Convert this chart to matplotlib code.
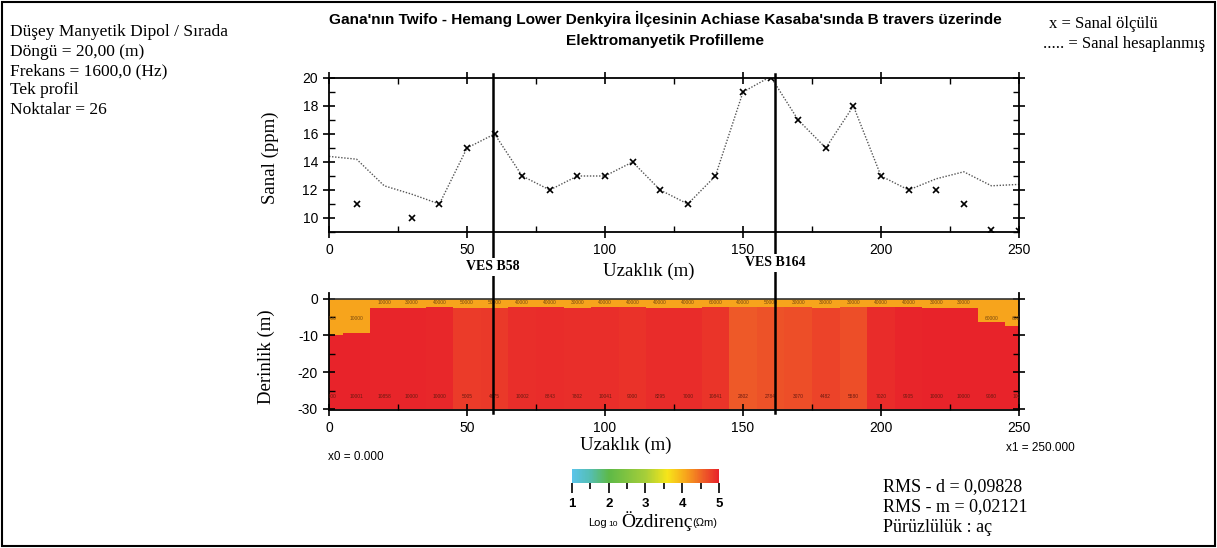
import numpy as np
import matplotlib
matplotlib.use("Agg")
import matplotlib.pyplot as plt
from matplotlib.colors import LinearSegmentedColormap, Normalize
from matplotlib.lines import Line2D
from matplotlib.patches import Rectangle
import matplotlib.transforms as mtransforms

plt.rcParams["axes.unicode_minus"] = False

SERIF = "Liberation Serif"
SANS = "Liberation Sans"

# Sanal (ppm) - measured points
meas_x = [10, 30, 40, 50, 60, 70, 80, 90, 100, 110, 120, 130, 140, 150, 160,
          170, 180, 190, 200, 210, 220, 230, 240, 250]
meas_y = [11, 10, 11, 15, 16, 13, 12, 13, 13, 14, 12, 11, 13, 19, 20,
          17, 15, 18, 13, 12, 12, 11, 9.15, 9.1]

# Sanal (ppm) - calculated curve
calc_x = [0, 10, 20, 30, 40, 50, 60, 70, 80, 90, 100, 110, 120, 130, 140, 150,
          160, 170, 180, 190, 200, 210, 220, 230, 240, 250]
calc_y = [14.4, 14.2, 12.3, 11.7, 11.0, 15.0, 16.0, 13.0, 12.0, 13.0, 13.0, 14.0,
          12.0, 11.0, 13.0, 19.0, 20.1, 17.0, 15.0, 18.0, 13.0, 12.0, 12.8, 13.3,
          12.3, 12.4]

# resistivity model (log10 ohm-m), one column per station
col_x = calc_x
top_thick = [10.0, 9.3, 2.5, 2.5, 2.4, 2.6, 2.5, 2.4, 2.4, 2.5, 2.4, 2.4, 2.5,
             2.5, 2.4, 2.4, 2.4, 2.4, 2.5, 2.4, 2.4, 2.4, 2.5, 2.6, 6.3, 7.4]
top_log = [4.1] * 26
bot_log = [5.0, 5.0, 4.98, 4.98, 4.96, 4.82, 4.84, 4.92, 4.93, 4.91, 4.91, 4.88,
           4.93, 4.93, 4.87, 4.60, 4.65, 4.68, 4.76, 4.68, 4.93, 4.98, 5.0, 5.0,
           5.0, 5.0]
top_lbl = ["10000", "10000", "10000", "30000", "40000", "50000", "50000", "40000",
           "40000", "30000", "40000", "40000", "40000", "40000", "60000", "40000",
           "50000", "30000", "30000", "30000", "40000", "40000", "30000", "30000",
           "60000", "60000"]
bot_lbl = ["10000", "10001", "10858", "10000", "10000", "5005", "4675", "10002",
           "8843", "7802", "10041", "9000", "8295", "7000", "10841", "2802",
           "2784", "3070", "4482", "5580", "7020", "9905", "10000", "10000",
           "9080", "10000"]

ves_x = [59.5, 161.6]
ves_names = ["VES B58", "VES B164"]

info_lines = ["Düşey Manyetik Dipol / Sırada", "Döngü = 20,00 (m)",
              "Frekans = 1600,0 (Hz)", "Tek profil", "Noktalar = 26"]
rms_lines = ["RMS - d = 0,09828", "RMS - m = 0,02121", "Pürüzlülük : aç"]

cmap = LinearSegmentedColormap.from_list("ozd", [
    (0.00, "#5BC4EA"), (0.12, "#55BEB4"), (0.25, "#5DB947"), (0.50, "#A6CE39"),
    (0.65, "#F7E51A"), (0.78, "#F7A21C"), (0.90, "#EE5A28"), (1.00, "#E8232A")])
norm = Normalize(1, 5)

W, H = 1217, 548
fig = plt.figure(figsize=(W / 100, H / 100), dpi=100)


def fx(px):
    return px / W


def fy(py):
    return 1 - py / H


def style_ticks(ax):
    ax.tick_params(which="major", direction="inout", length=9, width=1.2,
                   labelsize=10, top=True, right=True)
    ax.tick_params(which="minor", direction="in", length=4, width=1,
                   top=True, right=True)
    for lab in ax.get_xticklabels() + ax.get_yticklabels():
        lab.set_family(SANS)
    for s in ax.spines.values():
        s.set_linewidth(1.3)


# ---- top profile ----
ax1 = fig.add_axes([fx(329), fy(232), fx(690), 154 / H])
ax1.plot(calc_x, calc_y, ls=(0, (1, 1.2)), color="#555555", lw=1.0, clip_on=True)
ax1.plot(meas_x, meas_y, ls="none", marker="x", ms=4, mew=1.2, color="black")
ax1.set_xlim(0, 250)
ax1.set_ylim(9, 20)
ax1.set_xticks([0, 50, 100, 150, 200, 250])
ax1.set_xticks([25, 75, 125, 175, 225], minor=True)
ax1.set_yticks([10, 12, 14, 16, 18, 20])
ax1.set_yticks(np.arange(9, 20, 1), minor=True)
ax1.tick_params(labeltop=False, labelright=False)
style_ticks(ax1)

# ---- bottom resistivity section ----
ax2 = fig.add_axes([fx(329), fy(410), fx(690), 117 / H])
bot_colors = cmap(norm(bot_log))
top_colors = cmap(norm(top_log))
ax2.bar(col_x, [30 - t for t in top_thick], width=10, bottom=-30,
        color=bot_colors, linewidth=0)
ax2.bar(col_x, top_thick, width=10, bottom=[-t for t in top_thick],
        color=top_colors, linewidth=0)
ax2.axhline(0, color="#333333", lw=1.2)
for i, x in enumerate(col_x):
    ty = -5.3 if top_thick[i] > 5 else -1.2
    ax2.text(x, ty, top_lbl[i], fontsize=3.5, color="#7a4a10", ha="center",
             va="center", clip_on=True, family=SANS)
    ax2.text(x, -26.5, bot_lbl[i], fontsize=3.5, color="#6a1a10", ha="center",
             va="center", clip_on=True, family=SANS)
ax2.set_xlim(0, 250)
ax2.set_ylim(-30.3, 1.5)
ax2.set_xticks([0, 50, 100, 150, 200, 250])
ax2.set_xticks([25, 75, 125, 175, 225], minor=True)
ax2.set_yticks([0, -10, -20, -30])
ax2.set_yticks([-5, -15, -25], minor=True)
ax2.spines["top"].set_visible(False)
style_ticks(ax2)
ax2.tick_params(which="both", top=False)

# axis labels
fig.text(fx(270), fy(158), "Sanal (ppm)", rotation=90, ha="center", va="center",
         family=SERIF, fontsize=13.5)
fig.text(fx(649), fy(271), "Uzaklık (m)", ha="center", va="center",
         family=SERIF, fontsize=13.5)
fig.text(fx(266), fy(357), "Derinlik (m)", rotation=90, ha="center", va="center",
         family=SERIF, fontsize=13.5)
fig.text(fx(626), fy(445), "Uzaklık (m)", ha="center", va="center",
         family=SERIF, fontsize=13.5)
fig.text(fx(328), fy(457), "x0 = 0.000", ha="left", va="center",
         family=SANS, fontsize=8.5)
fig.text(fx(1006), fy(448), "x1 = 250.000", ha="left", va="center",
         family=SANS, fontsize=8.5)

# VES lines spanning both panels
blend = mtransforms.blended_transform_factory(ax1.transData, fig.transFigure)
label_y = [fy(267), fy(263)]
for x, name, ly in zip(ves_x, ves_names, label_y):
    fig.add_artist(Line2D([x, x], [fy(74), fy(413)], transform=blend,
                          color="black", lw=1.8, zorder=5))
    fig.text(x, ly, name, transform=blend, ha="center", va="center",
             family=SERIF, fontsize=10, fontweight="bold", zorder=6,
             bbox=dict(facecolor="white", edgecolor="none", pad=1.5))

# title
fig.text(fx(665), fy(19), "Gana'nın Twifo - Hemang Lower Denkyira İlçesinin Achiase "
         "Kasaba'sında B travers üzerinde", ha="center", va="center",
         family=SANS, fontsize=11.1, fontweight="bold")
fig.text(fx(665), fy(41), "Elektromanyetik Profilleme", ha="center", va="center",
         family=SANS, fontsize=11.1, fontweight="bold")

# info block left
for i, line in enumerate(info_lines):
    fig.text(fx(10), fy(32 + i * 19.5), line, ha="left", va="center",
             family=SERIF, fontsize=12.5)

# legend text right
fig.text(fx(1049), fy(24), "x = Sanal ölçülü", ha="left", va="center",
         family=SERIF, fontsize=12)
fig.text(fx(1043), fy(44), "..... = Sanal hesaplanmış", ha="left", va="center",
         family=SERIF, fontsize=12)

# RMS block
for i, line in enumerate(rms_lines):
    fig.text(fx(883), fy(487 + i * 20), line, ha="left", va="center",
             family=SERIF, fontsize=13)

# colorbar
cax = fig.add_axes([fx(572), fy(483), fx(147), 14 / H])
cb = fig.colorbar(plt.cm.ScalarMappable(norm=norm, cmap=cmap), cax=cax,
                  orientation="horizontal")
cb.outline.set_visible(False)
cb.set_ticks([1, 2, 3, 4, 5])
cb.ax.set_xticks(np.arange(1.5, 5, 1), minor=True)
cb.ax.tick_params(which="major", direction="out", length=7, width=1.2,
                  labelsize=9.5, pad=4)
cb.ax.tick_params(which="minor", direction="out", length=4, width=1.2)
for lab in cb.ax.get_xticklabels():
    lab.set_family(SANS)
    lab.set_fontweight("bold")
fig.text(fx(588), fy(523), "Log", ha="left", va="center", family=SANS, fontsize=8)
fig.text(fx(608), fy(524), "10", ha="left", va="center", family=SANS, fontsize=6)
fig.text(fx(621), fy(521), "Özdirenç", ha="left", va="center", family=SERIF,
         fontsize=14)
fig.text(fx(692), fy(523), "(Ωm)", ha="left", va="center", family=SANS, fontsize=8)

# outer frame
fig.add_artist(Rectangle((fx(2), fy(546)), fx(1213), 544 / H, transform=fig.transFigure,
                         fill=False, edgecolor="black", lw=1.5))

fig.savefig("out.png", dpi=100)
